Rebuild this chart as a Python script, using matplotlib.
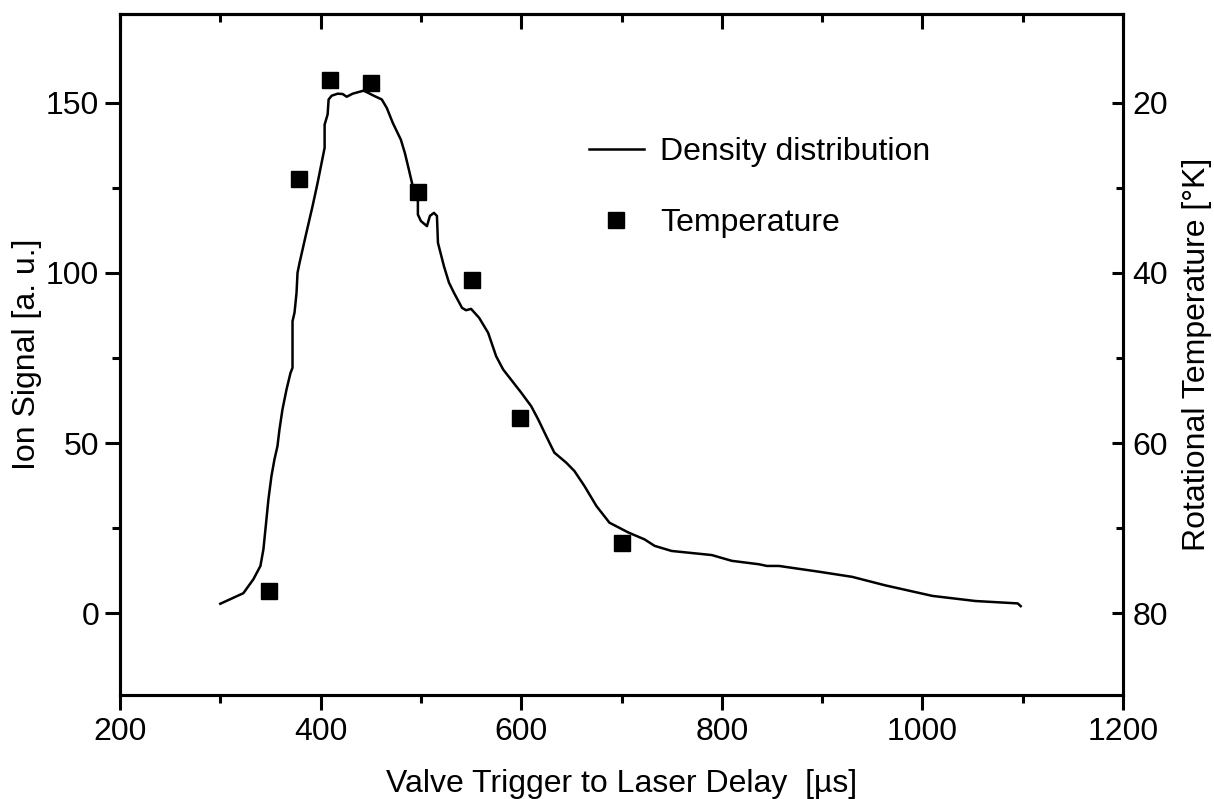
import numpy as np
import matplotlib
matplotlib.use("Agg")
import matplotlib.pyplot as plt
from matplotlib.ticker import MultipleLocator, FixedLocator
from matplotlib.lines import Line2D

plt.rcParams['font.family'] = ['Liberation Sans', 'DejaVu Sans']

# Density distribution (ion signal, left axis)
delay_curve = [300, 323, 333, 340, 343, 346, 348, 351, 354, 357, 359, 362, 366, 370, 372,
               372, 374, 376, 377, 379, 385, 392, 397, 404, 404, 407, 408, 411, 417, 422,
               426, 432, 443, 453, 461, 466, 472, 480, 484, 488, 493, 497, 497, 500, 506,
               509, 513, 516, 517, 523, 528, 533, 541, 545, 550, 558, 567, 575, 582, 600,
               610, 617, 625, 633, 645, 653, 663, 675, 688, 707, 723, 733, 750, 790, 810,
               837, 845, 857, 897, 930, 963, 1010, 1053, 1095, 1098]
ion_signal = [2.8, 5.9, 10.0, 13.9, 18.8, 27.6, 33.5, 40.3, 45.2, 49.1, 54.0, 59.9, 65.7, 70.6, 72.1,
              85.8, 88.3, 94.1, 100.0, 102.9, 110.7, 119.6, 126.4, 136.7, 143.5, 146.5, 150.9, 152.0, 152.6, 152.5,
              151.7, 152.6, 153.5, 152.0, 150.9, 148.4, 144.0, 139.1, 135.2, 130.3, 124.0, 121.0, 117.1, 115.2, 113.7,
              116.7, 117.6, 116.7, 108.8, 101.9, 97.1, 94.1, 89.7, 89.0, 89.4, 86.8, 82.4, 75.5, 71.6, 64.8,
              60.8, 56.9, 52.0, 47.2, 44.2, 41.8, 37.4, 31.5, 26.6, 23.7, 21.7, 19.8, 18.3, 17.1, 15.4,
              14.4, 13.9, 13.9, 12.2, 10.7, 8.2, 5.1, 3.6, 2.9, 2.1]

# Rotational temperature (right axis, inverted)
delay_temp = [349, 378, 409, 450, 497, 551, 599, 700]
temperature = [77.4, 29.0, 17.4, 17.7, 30.5, 40.9, 57.1, 71.7]

x_ticks = [200, 400, 600, 800, 1000, 1200]
left_ticks = [0, 50, 100, 150]
right_ticks = [20, 40, 60, 80]

fig = plt.figure(figsize=(12.14, 7.99), dpi=100)
ax = fig.add_axes([120/1214, 1-695/799, 1003/1214, 681/799])

FS = 23
LW = 2.2

ax.plot(delay_curve, ion_signal, color='black', lw=1.8)
ax.set_xlim(200, 1200)
ylo, yhi = -24, 176
ax.set_ylim(ylo, yhi)
ax.xaxis.set_major_locator(FixedLocator(x_ticks))
ax.xaxis.set_minor_locator(MultipleLocator(100))
ax.yaxis.set_major_locator(FixedLocator(left_ticks))
ax.yaxis.set_minor_locator(FixedLocator(np.arange(25, 150, 50)))
ax.tick_params(axis='both', which='major', direction='out', length=11, width=LW,
               labelsize=FS, pad=4)
ax.tick_params(axis='both', which='minor', direction='out', length=6, width=LW)
ax.tick_params(axis='x', which='major', pad=5)
for s in ax.spines.values():
    s.set_linewidth(LW)

ax.set_xlabel('Valve Trigger to Laser Delay  [µs]', fontsize=FS)
ax.set_ylabel('Ion Signal [a. u.]', fontsize=FS)
ax.xaxis.set_label_coords(0.5, (695-769)/681)
ax.yaxis.set_label_coords((42-120)/1003, 0.5)

# top ticks (inward, no labels)
sec = ax.secondary_xaxis('top')
sec.xaxis.set_major_locator(FixedLocator(x_ticks))
sec.xaxis.set_minor_locator(MultipleLocator(100))
sec.tick_params(axis='x', which='major', direction='in', length=11, width=LW, labeltop=False)
sec.tick_params(axis='x', which='minor', direction='in', length=6, width=LW)
sec.spines['top'].set_linewidth(LW)

# right axis: temperature, inverted
ax2 = ax.twinx()
ax2.plot(delay_temp, temperature, linestyle='none', marker='s', color='black', markersize=12)
ax2.set_ylim(80 - 0.4*ylo, 80 - 0.4*yhi)
ax2.yaxis.set_major_locator(FixedLocator(right_ticks))
ax2.yaxis.set_minor_locator(FixedLocator([30, 50, 70]))
ax2.tick_params(axis='y', which='major', direction='in', length=8, width=LW, labelsize=FS, pad=7)
ax2.tick_params(axis='y', which='minor', direction='in', length=5, width=LW)
for s in ax2.spines.values():
    s.set_linewidth(LW)
ax2.set_ylabel('Rotational Temperature [°K]', fontsize=FS)
ax2.yaxis.set_label_coords((1182-120)/1003, 0.5)

handles = [Line2D([], [], color='black', lw=1.8),
           Line2D([], [], linestyle='none', marker='s', color='black', markersize=12)]
leg = ax2.legend(handles, ['Density distribution', 'Temperature'], loc='upper left',
                 bbox_to_anchor=((589-120)/1003, (695-137)/681), frameon=False,
                 fontsize=FS, handlelength=1.72, handletextpad=0.5, labelspacing=1.28,
                 borderpad=0, borderaxespad=0)

fig.savefig('out.png', dpi=100)
